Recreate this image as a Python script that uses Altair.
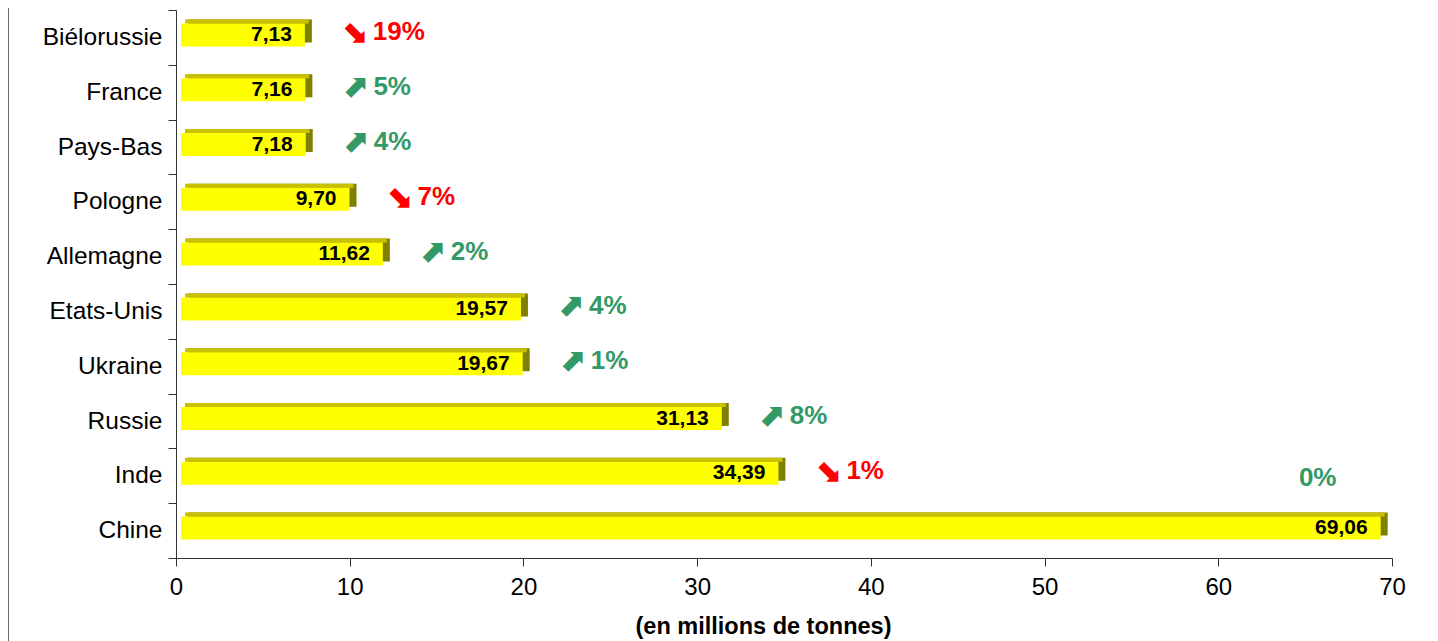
import altair as alt
import pandas as pd

countries = ["Biélorussie", "France", "Pays-Bas", "Pologne", "Allemagne",
             "Etats-Unis", "Ukraine", "Russie", "Inde", "Chine"]
values = [7.13, 7.16, 7.18, 9.70, 11.62, 19.57, 19.67, 31.13, 34.39, 69.06]
changes = [-19, 5, 4, -7, 2, 4, 1, 8, -1, 0]
x_ticks = [0, 10, 20, 30, 40, 50, 60, 70]

df = pd.DataFrame({"pays": countries, "valeur": values, "variation": changes})
df["label"] = [f"{v:.2f}".replace(".", ",") for v in values]
df["arrow"] = ["⬊" if c < 0 else "⬈" if c > 0 else "" for c in changes]
df["pct"] = [f"{abs(c)}%" for c in changes]
df["sens"] = ["baisse" if c < 0 else "hausse" for c in changes]

FONT = "Liberation Sans"

y_axis = alt.Axis(title=None, tickBand="extent", tickSize=8, labelPadding=6,
                  labelFontSize=24.5, labelFont=FONT, labelColor="#000",
                  domainColor="#333", tickColor="#333", grid=False, labelLimit=300)
Y = alt.Y("pays:N", sort=countries, scale=alt.Scale(paddingInner=0, paddingOuter=0), axis=y_axis)
x_axis = alt.Axis(values=x_ticks, title="(en millions de tonnes)", grid=False,
                  tickSize=8, labelPadding=9, labelFontSize=24, labelFont=FONT,
                  labelColor="#000", domainColor="#333", tickColor="#333",
                  titleFont=FONT, titleFontSize=23.5, titleFontWeight="bold",
                  titleColor="#000", titlePadding=15, titleX=587, labelFlush=False)
X = alt.X("valeur:Q", scale=alt.Scale(domain=[0, 70], nice=False), axis=x_axis)

base = alt.Chart(df)

side = base.mark_bar(height=23, color="#808000", xOffset=12, x2Offset=12, yOffset=-6.5).encode(x=X, y=Y)
top = base.mark_bar(height=4, color="#C8C000", xOffset=9, x2Offset=9, yOffset=-16).encode(x=X, y=Y)
front = base.mark_bar(height=23, color="#FFFF00", xOffset=5, x2Offset=5, yOffset=-2.5).encode(x=X, y=Y)

labels = base.mark_text(align="right", baseline="middle", dx=-8, dy=-2.5,
                        font=FONT, fontSize=21, fontWeight="bold", color="#000").encode(
    x=X, y=Y, text="label:N")

color_scale = alt.Scale(domain=["baisse", "hausse"], range=["#FF0000", "#339966"])
C = alt.Color("sens:N", scale=color_scale, legend=None)

arrows = base.transform_filter("datum.valeur < 60").mark_text(
    align="left", baseline="middle", dx=41, dy=-5,
    font="DejaVu Sans", fontSize=32, fontWeight="bold").encode(
    x=X, y=Y, text="arrow:N", color=C)

pcts = base.transform_filter("datum.valeur < 60").mark_text(
    align="left", baseline="middle", dx=73, dy=-5,
    font=FONT, fontSize=26, fontWeight="bold").encode(
    x=X, y=Y, text="pct:N", color=C)

pct_top = base.transform_filter("datum.valeur >= 60").mark_text(
    align="center", baseline="middle", dx=-58, dy=-53,
    font=FONT, fontSize=26, fontWeight="bold").encode(
    x=X, y=Y, text="pct:N", color=C)

border = alt.Chart(pd.DataFrame({"a": [0]})).mark_rule(color="#000", strokeWidth=1.2).encode(
    x=alt.value(-168), y=alt.value(-10), y2=alt.value(640))

chart = alt.layer(side, top, front, labels, arrows, pcts, pct_top, border).properties(
    width=1216, height=548,
    autosize=alt.AutoSizeParams(type="none"),
    padding={"left": 168, "top": 2, "right": 30, "bottom": 83},
).configure_view(strokeWidth=0)

chart.save("out.html", embed_options={"renderer": "svg", "actions": False})
